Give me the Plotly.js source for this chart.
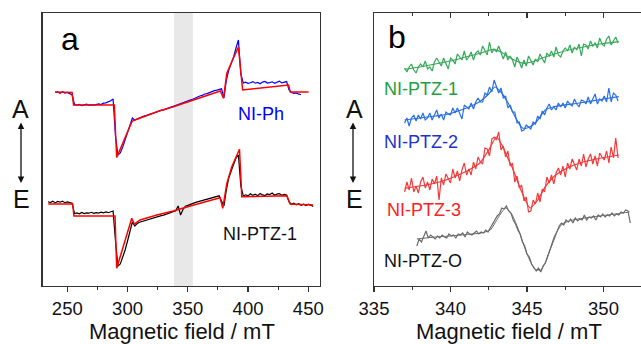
<!DOCTYPE html>
<html>
<head>
<meta charset="utf-8">
<script src="https://cdn.plot.ly/plotly-3.0.1.min.js"></script>
<style>html,body{margin:0;padding:0;background:#fff;}#chart{width:641px;height:344px;}</style>
</head>
<body>
<div id="chart"></div>
<script>
// ---------- Panel a (field in mT, intensity in arbitrary units) ----------
const phStart = 240, phStep = 2;
const niPhData = [193.5,194,192.8,194.2,193,193.6,192.4,191,
181.5,180.8,181.6,180.5,181.2,181.8,180.6,181.4,180.9,181.7,182.2,181.5,182.8,183.2,184,185.2,187,
150,131,133,139,146,153,160,168,166,
167.2,168.6,169,170.2,170.6,171.8,172.4,173,174.1,174.6,175.8,176.2,177.3,177.8,178.9,179.6,180.4,181.6,
182.2,183.1,184.3,184.6,185.9,186.8,188,188.7,190,190.6,192,192.4,193.6,194.1,195.3,195.8,196.9,197.2,
188,206,216,222,229,238,246,212,203,
203.8,202.6,203.2,204.4,202.8,203.6,202.2,203.9,204.6,202.9,203.4,204.2,202.7,203.8,204.9,203.1,203.7,204.4,
196,193.4,192.6,193.1,191.8,191.5];
const niPhFitX = [239.8,254.0,255.2,289.0,291.0,303.5,305.0,315,325,338,352,366,377.0,379.6,382.4,386.5,392.0,395.5,415,433.6,435.0,450.2];
const niPhFitY = [194,193.5,181,181,128.5,164,165.5,170,174.5,179.3,185,190.3,195,187.7,212.7,224.3,239,196,198.5,201,194,194];

const ptz1aStart = 234, ptz1aStep = 2;
const niPtz1aData = [84.2,83.4,84.8,83.1,84.5,83.8,84.9,83.3,84.1,83.6,82.8,
72.4,73.1,72.2,73.6,72.5,73.2,72.8,73.7,72.6,73.4,72.9,73.8,73.1,74,73.3,74.2,75,
45,20,22,28,36,45,56,64,60,
62.5,63.8,64.6,65.2,66.1,66.8,67.4,68.3,69,69.6,70.4,70.9,71.7,72.4,73.1,73.9,75.2,80,
71,76.5,79.8,80.6,81.7,82.3,83.4,84.1,84.8,85.9,86.4,87.2,87.9,88.6,89.1,89.8,90.2,85,
80,96,108,115,122,128,131,100,90,
91.2,90.1,92.3,90.6,91.8,90.3,92.6,91.1,90.4,92.1,91.5,93,90.7,91.9,92.4,90.8,91.6,90.9,
84,81.6,82.8,81.1,82.3,80.7,81.9,80.4,81.8,80.9,79.5];
const niPtz1aFitX = [234.2,254.5,255.5,289.6,291.0,303.5,305.6,310.4,324.3,338,352,366,376.8,379.0,382.4,386.5,392.9,394.8,432.2,435.0,454];
const niPtz1aFitY = [82,82,70,70,17.7,67.7,62,66,71,75,80,85,88.3,77.7,102.7,119.3,136.7,89.3,90.3,82,81];

const bandRange = [338.6, 354.2];

// ---------- Panel b ----------
const bStart = 337.0, bStep = 0.15;
const ptz1Data = [218,214,219,222,216,213,219,222,219,225,217,219,215,224,228,224,220,228,223,217,
228,226,222,232,229,226,235,226,229,234,226,233,235,231,240,236,231,244,233,237,
234,240,233,227,234,226,230,226,219,229,224,218,226,220,230,225,221,227,224,232,
227,223,233,230,235,229,239,231,229,235,238,235,241,233,239,236,242,230,242,241,
237,245,240,243,238,248,242,240,247,250,241,245,249,243];
const ptz1FitX = [337.0,338,339,340,341,342,342.8,343.3,343.8,344.3,344.8,345.3,346,347,348,349,350,351];
const ptz1FitY = [216.7,219,222,225,229,233,236.7,234,229,225,222.7,224,228,233,237,240,242.5,244.3];

const ptz2Data = [163,168,160,168,171,165,171,167,173,166,168,173,166,172,176,168,172,166,174,172,
171,178,173,178,173,167,181,179,177,183,177,184,188,184,184,193,191,199,194,206,
199,193,198,188,190,178,181,174,174,163,164,155,156,161,159,157,164,162,170,167,
175,171,178,182,176,179,176,183,179,183,178,185,182,180,187,182,179,186,185,182,
189,182,187,192,182,187,185,190,184,198,184,193,191,185];
const ptz2FitX = [337.0,338,339,339.7,340.5,341.2,341.9,342.5,342.9,343.3,343.8,344.3,344.7,345.1,345.6,346.2,346.8,348.4,350,351];
const ptz2FitY = [166,168,170,171.5,175,179,184.3,192,199,194,182,167,158,158.5,164,176,179.5,183,187,189.3];

const ptz3Data = [94,104,96,108,94,100,93,104,109,98,104,96,107,102,110,86,108,101,112,108,
103,117,108,115,105,116,123,111,117,111,124,117,129,124,122,138,137,130,147,149,
146,154,136,140,129,135,120,123,104,110,98,101,85,89,74,75,86,82,93,84,
97,94,109,103,111,102,113,118,111,120,109,123,117,127,122,116,127,120,132,119,
127,132,122,130,120,133,129,126,135,123,139,128,148,128];
const ptz3FitX = [337.0,338,339,339.7,340.5,341.2,341.9,342.5,343.0,343.4,343.8,344.1,344.6,345.2,345.7,346.2,346.8,347.5,348.4,349.5,351];
const ptz3FitY = [97.7,100,103,106,111,116,122.7,136,149,140,126,116,96,78,86,99.3,110,117,122.7,127,131];

const ptzOStart = 337.8;
const ptzOData = [40,47,44,50,55,48,51,49,47,50,48,51,49,48,52,50,51,48,52,51,
53,49,54,52,51,53,55,52,54,53,56,54,58,62,65,70,72,78,77,80,
75,73,66,62,56,52,44,40,32,29,22,19,15,18,14,20,23,30,36,44,
50,55,60,63,61,66,64,67,63,68,65,67,66,71,66,69,68,70,66,71,
69,72,69,71,70,73,70,72,71,74,73,76,75,63];
const ptzOFitX = [337.8,339,340,341,342,342.6,343.1,343.6,344.0,344.5,345,345.5,345.9,346.3,346.8,347.3,348,349,350,351,351.7];
const ptzOFitY = [47,49,50,51.5,53,56,68,78,72,54,32,17,16,27,50,62,66,68.5,70.5,72.5,74];

const xTitle = 'Magnetic field / mT';
const panelLabels = ['a', 'b'];
const sampleLabelsA = ['NI-Ph', 'NI-PTZ-1'];
const sampleLabelsB = ['NI-PTZ-1', 'NI-PTZ-2', 'NI-PTZ-3', 'NI-PTZ-O'];

function grid(start, step, n) { const a = []; for (let i = 0; i < n; i++) a.push(+(start + i * step).toFixed(3)); return a; }

const FONT = 'Arial, "Liberation Sans", Helvetica, sans-serif';
const AX = '#333';

function line(x, y, color, width, xa, ya, shape) {
  return {x: x, y: y, mode: 'lines', line: {color: color, width: width, shape: shape || 'linear', smoothing: 0.6},
    xaxis: xa, yaxis: ya, hoverinfo: 'skip', showlegend: false};
}

const cGreen = '#36a85a', cBlue = '#2a6fe6', cRed = '#f23a3a', cGray = '#6a6a6a';

const traces = [
  line(grid(phStart, phStep, niPhData.length), niPhData, '#0000ff', 1.2, 'x', 'y'),
  line(niPhFitX, niPhFitY, '#ff0000', 1.5, 'x', 'y'),
  line(grid(ptz1aStart, ptz1aStep, niPtz1aData.length), niPtz1aData, '#000000', 1.2, 'x', 'y'),
  line(niPtz1aFitX, niPtz1aFitY, '#ff0000', 1.5, 'x', 'y'),

  line(grid(bStart, bStep, ptz1Data.length), ptz1Data, cGreen, 1.2, 'x2', 'y2'),
  line(ptz1FitX, ptz1FitY, cGreen, 1.2, 'x2', 'y2', 'spline'),
  line(grid(bStart, bStep, ptz2Data.length), ptz2Data, cBlue, 1.2, 'x2', 'y2'),
  line(ptz2FitX, ptz2FitY, cBlue, 1.2, 'x2', 'y2', 'spline'),
  line(grid(bStart, bStep, ptz3Data.length), ptz3Data, cRed, 1.2, 'x2', 'y2'),
  line(ptz3FitX, ptz3FitY, cRed, 1.2, 'x2', 'y2', 'spline'),
  line(grid(ptzOStart, bStep, ptzOData.length), ptzOData, cGray, 1.2, 'x2', 'y2'),
  line(ptzOFitX, ptzOFitY, cGray, 1.0, 'x2', 'y2', 'spline'),
  {x: [], y: [], xaxis: 'x3', yaxis: 'y2', mode: 'lines', showlegend: false, hoverinfo: 'skip'}
];

const H = 344, W = 641, MT = 13, MB = 58;
const py = v => (H - MB - v) / (H - MT - MB);  // pixel row -> paper y
const px = v => v / W;

function xaxisBase(range, dtick, tick0, minorDtick) {
  return {
    range: range, dtick: dtick, tick0: tick0, showgrid: false, zeroline: false,
    showline: true, linecolor: AX, linewidth: 1.3, mirror: true,
    ticks: 'outside', ticklen: 5, tickwidth: 1.3, tickcolor: AX, ticklabelstandoff: 0,
    minor: {ticks: 'outside', ticklen: 3, tickwidth: 1.1, tickcolor: AX, dtick: minorDtick, showgrid: false},
    tickfont: {family: FONT, size: 18.5, color: '#111'},
    automargin: false
  };
}

const ann = [];
function txt(text, x, y, size, color) {
  ann.push({text: text, x: px(x), y: py(y), xref: 'paper', yref: 'paper', showarrow: false,
    xanchor: 'center', yanchor: 'middle', font: {family: FONT, size: size, color: color}});
}
function arrow(x, yTop, yBot) {
  ann.push({text: '', x: px(x), y: py(yBot), xref: 'paper', yref: 'paper', showarrow: true,
    ax: 0, ay: -(yBot - yTop), axref: 'pixel', ayref: 'pixel', arrowside: 'end+start', arrowhead: 2,
    startarrowhead: 2, arrowsize: 1, startarrowsize: 1, arrowwidth: 1.3, arrowcolor: '#111'});
}
// axis titles
txt(xTitle, 181.7, 331.5, 22, '#111');
txt(xTitle, 509, 331.5, 22, '#111');
txt(panelLabels[0], 70, 39, 32, '#000');
txt(panelLabels[1], 396.5, 37, 32, '#000');
txt('A', 20.5, 108.5, 25, '#111');
txt('E', 21.5, 198.5, 25, '#111');
arrow(21, 121, 183);
txt('A', 354.5, 108.5, 25, '#111');
txt('E', 354.5, 198.5, 25, '#111');
arrow(353, 121, 183);
txt(sampleLabelsA[0], 261, 113.5, 18, '#0000ff');
txt(sampleLabelsA[1], 259.5, 233.5, 18, '#111');
txt(sampleLabelsB[0], 420.5, 88.5, 18, '#22a040');
txt(sampleLabelsB[1], 420.5, 141.5, 18, '#1c34cc');
txt(sampleLabelsB[2], 423.5, 209.5, 18, '#ff2020');
txt(sampleLabelsB[3], 423, 260.5, 18, '#111');

const xa = xaxisBase([229.6, 459.7], 50, 250, 25);
xa.domain = [px(42.7), px(320)]; xa.anchor = 'y';
const xb = xaxisBase([335, 352.45], 5, 335, 2.5);
xb.domain = [px(374), 1]; xb.anchor = 'y2';

const layout = {
  width: W, height: H, margin: {l: 0, r: 0, t: MT, b: MB, pad: 0},
  paper_bgcolor: '#fff', plot_bgcolor: 'rgba(0,0,0,0)',
  font: {family: FONT},
  xaxis: xa,
  yaxis: {domain: [0, 1], range: [0, 273], anchor: 'x', showline: true, mirror: true, linecolor: AX, linewidth: 1.3,
    showticklabels: false, ticks: '', showgrid: false, zeroline: false, fixedrange: true},
  xaxis2: xb,
  yaxis2: {domain: [0, 1], range: [0, 273], anchor: 'x2', showline: true, mirror: false, linecolor: AX, linewidth: 1.3,
    showticklabels: false, ticks: '', showgrid: false, zeroline: false},
  xaxis3: {overlaying: 'x2', anchor: 'y2', side: 'top', range: [335, 352.45], dtick: 5, tick0: 335,
    ticks: 'inside', ticklen: 5, tickwidth: 1.3, tickcolor: AX, showticklabels: false, showline: false,
    showgrid: false, zeroline: false,
    minor: {ticks: 'inside', ticklen: 3, tickwidth: 1.1, tickcolor: AX, dtick: 2.5}},
  shapes: [{type: 'rect', xref: 'x', yref: 'paper', x0: bandRange[0], x1: bandRange[1], y0: 0, y1: 1,
    fillcolor: '#e8e8e8', line: {width: 0}, layer: 'below'}],
  annotations: ann,
  showlegend: false
};

Plotly.newPlot('chart', traces, layout, {staticPlot: true, displayModeBar: false});
</script>
</body>
</html>
